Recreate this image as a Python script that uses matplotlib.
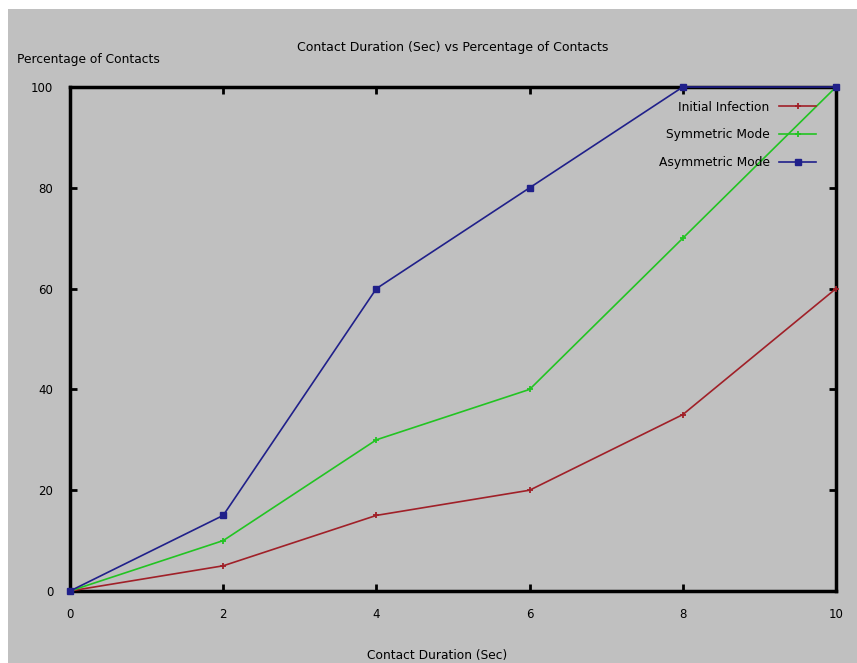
import matplotlib.pyplot as plt
from matplotlib.patches import Rectangle

# data
duration = [0, 2, 4, 6, 8, 10]
initial_infection = [0, 5, 15, 20, 35, 60]
symmetric_mode = [0, 10, 30, 40, 70, 100]
asymmetric_mode = [0, 15, 60, 80, 100, 100]

x_ticks = [0, 2, 4, 6, 8, 10]
y_ticks = [0, 20, 40, 60, 80, 100]

bg = '#c0c0c0'
plt.rcParams['font.family'] = ['DejaVu Sans']

fig = plt.figure(figsize=(8.57, 6.63), dpi=100, facecolor='white')
# gray canvas with a thin white margin at top and left
fig.patches.append(Rectangle((8 / 857, 0), 1, 1 - 9 / 663, transform=fig.transFigure,
                             facecolor=bg, edgecolor='none', zorder=-10))

ax = fig.add_axes([70 / 857, 1 - 591 / 663, (836 - 70) / 857, (591 - 87) / 663])
ax.set_facecolor(bg)

ax.plot(duration, initial_infection, color='#a02028', lw=1.2, marker='+', ms=5, mew=1.3,
        label='Initial Infection', clip_on=False, zorder=3)
ax.plot(duration, symmetric_mode, color='#22c422', lw=1.2, marker='+', ms=5, mew=1.3,
        label='Symmetric Mode', clip_on=False, zorder=3)
ax.plot(duration, asymmetric_mode, color='#20208a', lw=1.2, marker='s', ms=4,
        label='Asymmetric Mode', clip_on=False, zorder=4)

ax.set_xlim(0, 10)
ax.set_ylim(0, 100)
ax.set_xticks(x_ticks)
ax.set_yticks(y_ticks)
ax.tick_params(direction='in', length=5, width=2, top=True, right=True,
               labelsize=8.5, pad=12, colors='black')
for s in ax.spines.values():
    s.set_linewidth(2.5)

ax.set_title('Contact Duration (Sec) vs Percentage of Contacts', fontsize=9, pad=26)
fig.text(17 / 857, 1 - 60 / 663, 'Percentage of Contacts', fontsize=8.8, va='center', ha='left')
fig.text(437 / 857, 1 - 656 / 663, 'Contact Duration (Sec)', fontsize=8.8, va='center', ha='center')

leg = ax.legend(loc='upper right', frameon=False, fontsize=8.8, markerfirst=False,
                handlelength=3, labelspacing=1.2, borderaxespad=0.3, bbox_to_anchor=(0.985, 0.99))
for t in leg.get_texts():
    t.set_ha('right')
leg._legend_box.align = 'right'

fig.savefig('out.png', dpi=100, facecolor='white')
